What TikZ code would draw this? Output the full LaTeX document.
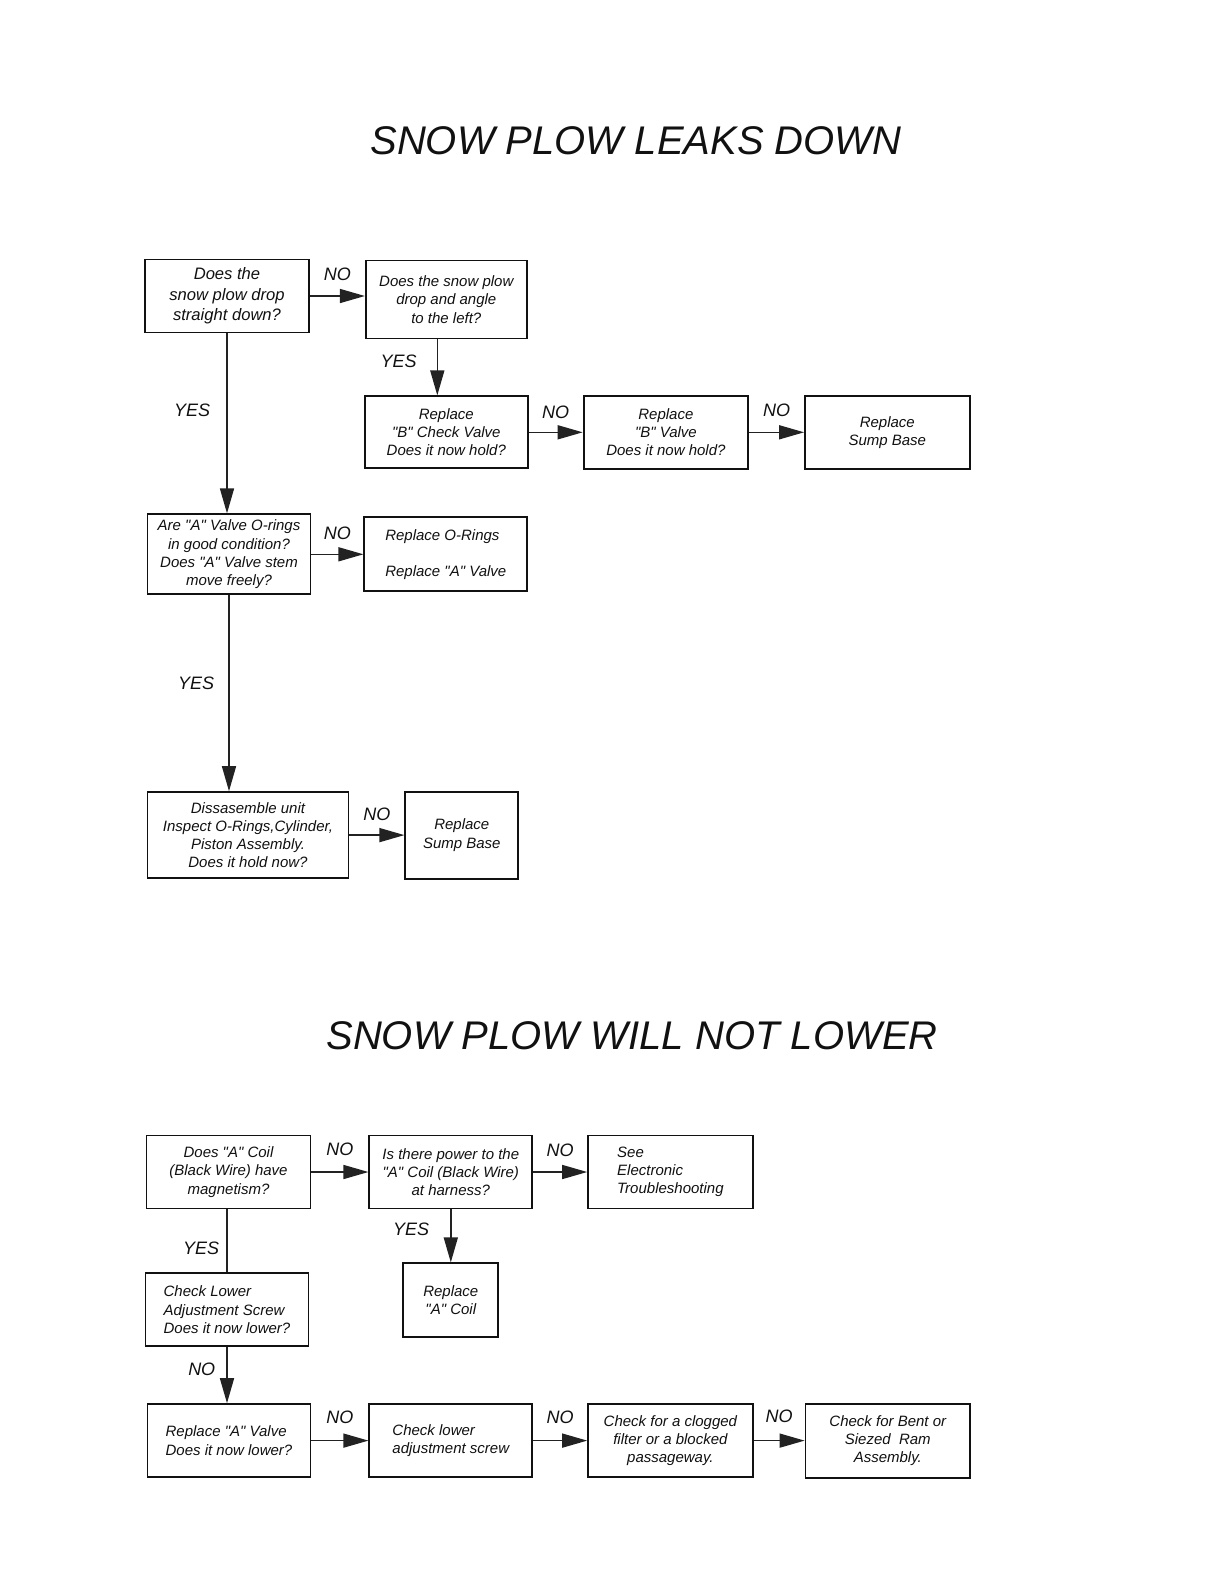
\documentclass[tikz,border=0pt]{standalone}
\usepackage{fontspec}
\setmainfont{Liberation Sans}[Ligatures=TeXOff]
\usetikzlibrary{positioning, arrows.meta}
\definecolor{boxstroke}{HTML}{111111}
\definecolor{flowline}{HTML}{222222}
\definecolor{plowtext}{HTML}{111111}

\begin{document}
\begin{tikzpicture}[
    x=0.5pt, y=-0.5pt,
    font=\fontsize{7.5}{9.1}\selectfont\itshape,
    title/.style={font=\fontsize{20}{24}\selectfont\itshape, text=plowtext, inner sep=0pt},
    question/.style={rectangle, draw=boxstroke, fill=white, text=plowtext, minimum width=81.5pt, minimum height=36.5pt, align=center, line width=0.9pt, inner sep=1pt},
    action/.style={question, align=left},
    arrow/.style={-{Triangle[length=12.5pt, width=7pt]}, line width=0.75pt, draw=flowline},
    plain/.style={line width=0.75pt, draw=flowline},
    answer/.style={font=\fontsize{9}{9}\selectfont\itshape, text=plowtext, inner sep=0pt}
]
    \useasboundingbox (0,0) rectangle (1224,1584);

    % Chart 1: leaks down
    \node[title] (title1) at (636,141) {SNOW PLOW LEAKS DOWN};

    \node[question, minimum width=82pt, font=\fontsize{8.3}{10.3}\selectfont\itshape] (drop) at (227,296) {Does the\\snow plow drop\\straight down?};
    \node[question, right=27.5pt of drop, yshift=-1.75pt, minimum width=80.5pt, minimum height=39pt] (angle) {Does the snow plow\\drop and angle\\to the left?};
    \node[question, below=28pt of angle, minimum height=36pt] (checkvalve) {Replace\\"B" Check Valve\\Does it now hold?};
    \node[question, right=27pt of checkvalve, minimum width=82.3pt] (bvalve) {Replace\\"B" Valve\\Does it now hold?};
    \node[question, right=27.5pt of bvalve, minimum width=82.3pt] (sumpa) {Replace\\Sump Base};

    \node[question, below=90pt of drop, xshift=1pt, minimum height=40pt] (orings) {Are "A" Valve O-rings\\in good condition?\\Does "A" Valve stem\\move freely?};
    \node[action, right=26pt of orings, minimum height=37pt] (replace) {Replace O-Rings\\[9pt]Replace "A" Valve};

    \node[question, below=98pt of orings.south west, anchor=north west, minimum width=100.5pt, minimum height=43pt] (disassemble) {Dissasemble unit\\Inspect O-Rings,Cylinder,\\Piston Assembly.\\Does it hold now?};
    \node[question, right=27.5pt of disassemble, minimum width=56.5pt, minimum height=43.5pt] (sumpb) {Replace\\Sump Base};

    \draw[arrow] (drop.east) -- (drop.east -| angle.west) node[answer, midway, above=7.5pt] {NO};
    \draw[arrow] ([xshift=-4.5pt]angle.south) -- ([xshift=-4.5pt]angle.south |- checkvalve.north) node[answer, pos=0.4, left=10pt] {YES};
    \draw[arrow] (checkvalve.east) -- (checkvalve.east -| bvalve.west) node[answer, midway, above=6.5pt] {NO};
    \draw[arrow] (bvalve.east) -- (bvalve.east -| sumpa.west) node[answer, midway, above=7.5pt] {NO};
    \draw[arrow] (drop.south) -- (drop.south |- orings.north) node[answer, pos=0.43, left=8pt] {YES};
    \draw[arrow] (orings.east) -- (orings.east -| replace.west) node[answer, midway, above=7pt] {NO};
    \draw[arrow] (orings.south) -- (orings.south |- disassemble.north) node[answer, pos=0.45, left=7pt] {YES};
    \draw[arrow] (disassemble.east) -- (disassemble.east -| sumpb.west) node[answer, midway, above=7pt] {NO};

    % Chart 2: will not lower
    \node[title] (title2) at (632,1036) {SNOW PLOW WILL NOT LOWER};

    \node[question, minimum width=82pt] (magnet) at (228.5,1172) {Does "A" Coil\\(Black Wire) have\\magnetism?};
    \node[question, right=28.5pt of magnet] (power) {Is there power to the\\"A" Coil (Black Wire)\\at harness?};
    \node[action, right=27pt of power, minimum width=82.3pt] (electronic) {See\\Electronic\\Troubleshooting};
    \node[question, below=26.5pt of power, minimum width=47.5pt, minimum height=37pt] (coil) {Replace\\"A" Coil};

    \node[action, below=31.5pt of magnet, xshift=-0.75pt] (screw) {Check Lower\\Adjustment Screw\\Does it now lower?};
    \node[action, below=28pt of screw, xshift=1pt] (avalve) {Replace "A" Valve\\Does it now lower?};
    \node[action, right=28.5pt of avalve] (lowerscrew) {Check lower\\adjustment screw};
    \node[question, right=27pt of lowerscrew, minimum width=82.3pt] (filter) {Check for a clogged\\filter or a blocked\\passageway.};
    \node[question, right=25.5pt of filter, minimum width=82.3pt, minimum height=37pt] (ram) {Check for Bent or\\Siezed\ \ Ram\\Assembly.};

    \draw[arrow] (magnet.east) -- (magnet.east -| power.west) node[answer, midway, above=8pt] {NO};
    \draw[arrow] (power.east) -- (power.east -| electronic.west) node[answer, midway, above=7.5pt] {NO};
    \draw[arrow] (power.south) -- (power.south |- coil.north) node[answer, pos=0.37, left=10.5pt] {YES};
    \draw[plain] ([xshift=-0.75pt]magnet.south) -- ([xshift=-0.75pt]magnet.south |- screw.north) node[answer, pos=0.62, left=3.5pt] {YES};
    \draw[arrow] (screw.south) -- (screw.south |- avalve.north) node[answer, pos=0.39, left=5.5pt] {NO};
    \draw[arrow] (avalve.east) -- (avalve.east -| lowerscrew.west) node[answer, midway, above=8pt] {NO};
    \draw[arrow] (lowerscrew.east) -- (lowerscrew.east -| filter.west) node[answer, midway, above=8pt] {NO};
    \draw[arrow] (filter.east) -- (filter.east -| ram.west) node[answer, midway, above=8.5pt] {NO};

\end{tikzpicture}
\end{document}
